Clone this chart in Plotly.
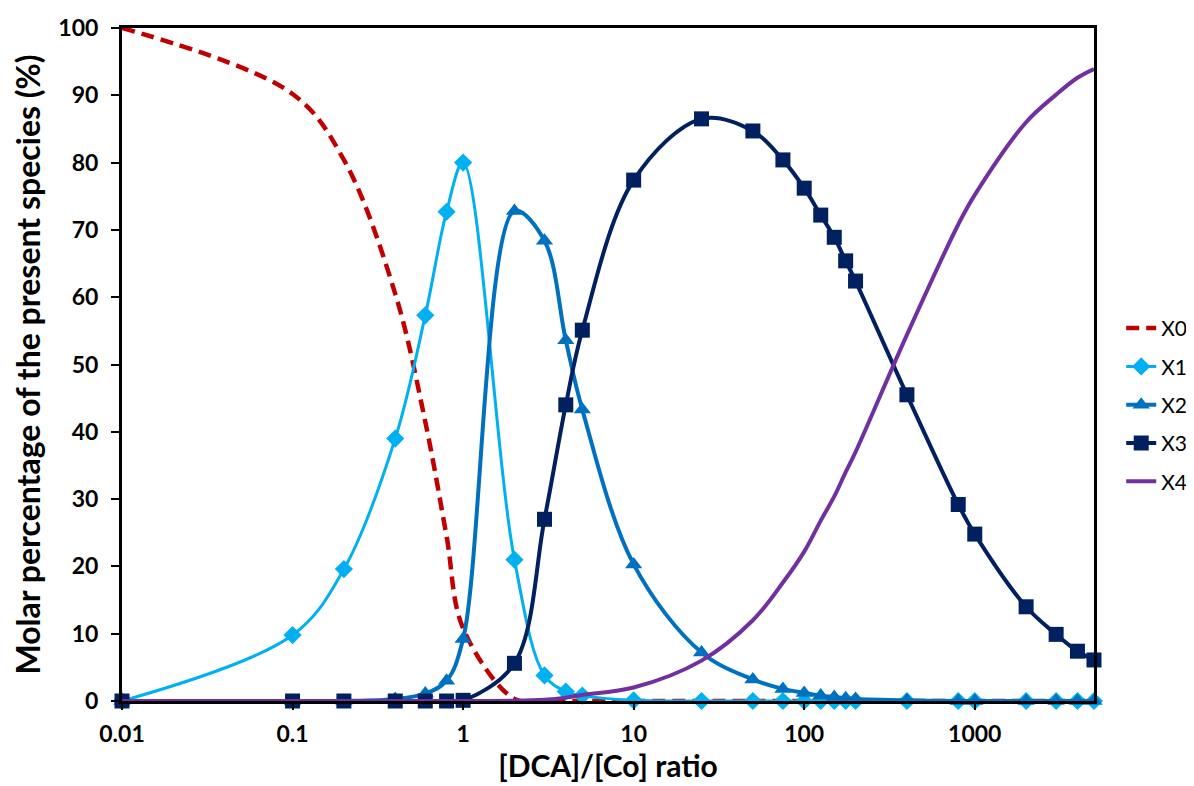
import plotly.graph_objects as go

# Data
ratio = [0.01, 0.1, 0.2, 0.4, 0.6, 0.8, 1, 2, 3, 4, 5, 10, 25, 50, 75, 100,
         125, 150, 175, 200, 400, 800, 1000, 2000, 3000, 4000, 5000]

x0_vals = [100, 90.2, 80.4, 60.5, 41.5, 24.5, 10.8, 0.3, 0, 0, 0, 0, 0, 0, 0, 0,
           0, 0, 0, 0, 0, 0, 0, 0, 0, 0, 0]
x1_vals = [0, 9.8, 19.6, 39.0, 57.3, 72.7, 80.0, 21.0, 3.8, 1.4, 0.8, 0.1, 0, 0, 0, 0,
           0, 0, 0, 0, 0, 0, 0, 0, 0, 0, 0]
x2_vals = [0, 0, 0, 0.3, 1.1, 3.0, 9.2, 72.8, 68.4, 53.6, 43.3, 20.3, 7.2, 3.2, 1.8, 1.2,
           0.8, 0.6, 0.4, 0.3, 0.1, 0, 0, 0, 0, 0, 0]
x3_vals = [0, 0, 0, 0, 0, 0, 0.1, 5.6, 27.0, 44.0, 55.1, 77.4, 86.5, 84.7, 80.4, 76.2,
           72.2, 68.9, 65.4, 62.4, 45.5, 29.2, 24.8, 14.0, 9.9, 7.4, 6.1]
x4_vals = [0, 0, 0, 0, 0, 0, 0, 0.05, 0.2, 0.5, 0.9, 2.0, 6.0, 12.0, 17.6, 22.2,
           26.8, 30.4, 34.0, 37.0, 54.4, 70.8, 75.2, 86.0, 90.1, 92.6, 93.9]

y_ticks = [0, 10, 20, 30, 40, 50, 60, 70, 80, 90, 100]
x_ticks = [0.01, 0.1, 1, 10, 100, 1000]
x_ticklabels = ["0.01", "0.1", "1", "10", "100", "1000"]

FONT = "Lato"

fig = go.Figure()

fig.add_trace(go.Scatter(
    x=ratio, y=x0_vals, name="X0", mode="lines", legendgroup="g0",
    line=dict(color="#C00000", width=4.5, dash="13px,7px", shape="spline", smoothing=1),
    cliponaxis=False))
fig.add_trace(go.Scatter(
    x=ratio, y=x1_vals, name="X1", mode="lines+markers", legendgroup="g1",
    line=dict(color="#00B0F0", width=3, shape="spline", smoothing=1),
    marker=dict(symbol="diamond", size=14, color="#00B0F0"),
    cliponaxis=False))
fig.add_trace(go.Scatter(
    x=ratio, y=x2_vals, name="X2", mode="lines+markers", legendgroup="g2",
    line=dict(color="#0070C0", width=4, shape="spline", smoothing=1),
    marker=dict(symbol="triangle-up", size=15, color="#0070C0"),
    cliponaxis=False))
fig.add_trace(go.Scatter(
    x=ratio, y=x3_vals, name="X3", mode="lines+markers", legendgroup="g3",
    line=dict(color="#002060", width=4, shape="spline", smoothing=1),
    marker=dict(symbol="square", size=15, color="#002060"),
    cliponaxis=False))
fig.add_trace(go.Scatter(
    x=ratio, y=x4_vals, name="X4", mode="lines", legendgroup="g4",
    line=dict(color="#7030A0", width=4, shape="spline", smoothing=1),
    cliponaxis=False))

fig.update_layout(
    width=1194, height=786,
    margin=dict(l=114, r=108, t=20, b=93, autoexpand=False),
    paper_bgcolor="white", plot_bgcolor="white",
    font=dict(family=FONT, color="black"),
    showlegend=True,
    legend=dict(x=1.028, xanchor="left", y=0.584, yanchor="top",
                font=dict(family=FONT, size=21, color="black"),
                tracegroupgap=8, bgcolor="rgba(0,0,0,0)"),
)

fig.update_xaxes(
    type="log", range=[-2, 3.6991],
    tickvals=x_ticks, ticktext=x_ticklabels,
    ticks="outside", ticklen=6, tickwidth=2, tickcolor="black",
    tickfont=dict(family=FONT, size=23, color="black", weight="bold"),
    ticklabelstandoff=4,
    showline=True, linecolor="black", linewidth=3, mirror=True,
    showgrid=False, zeroline=False, automargin=False,
    title=dict(text="[DCA]/[Co] ratio",
               font=dict(family=FONT, size=30, color="black", weight="bold"),
               standoff=9),
)
fig.update_yaxes(
    range=[0, 100], tickvals=y_ticks,
    ticks="outside", ticklen=8, tickwidth=2, tickcolor="black",
    tickfont=dict(family=FONT, size=23, color="black", weight="bold"),
    ticklabelstandoff=8,
    showline=True, linecolor="black", linewidth=3, mirror=True,
    showgrid=False, zeroline=False, automargin=False,
    title=dict(text="Molar percentage of the present species (%)",
               font=dict(family=FONT, size=32, color="black", weight="bold"),
               standoff=13),
)

fig.write_html("out.html")
